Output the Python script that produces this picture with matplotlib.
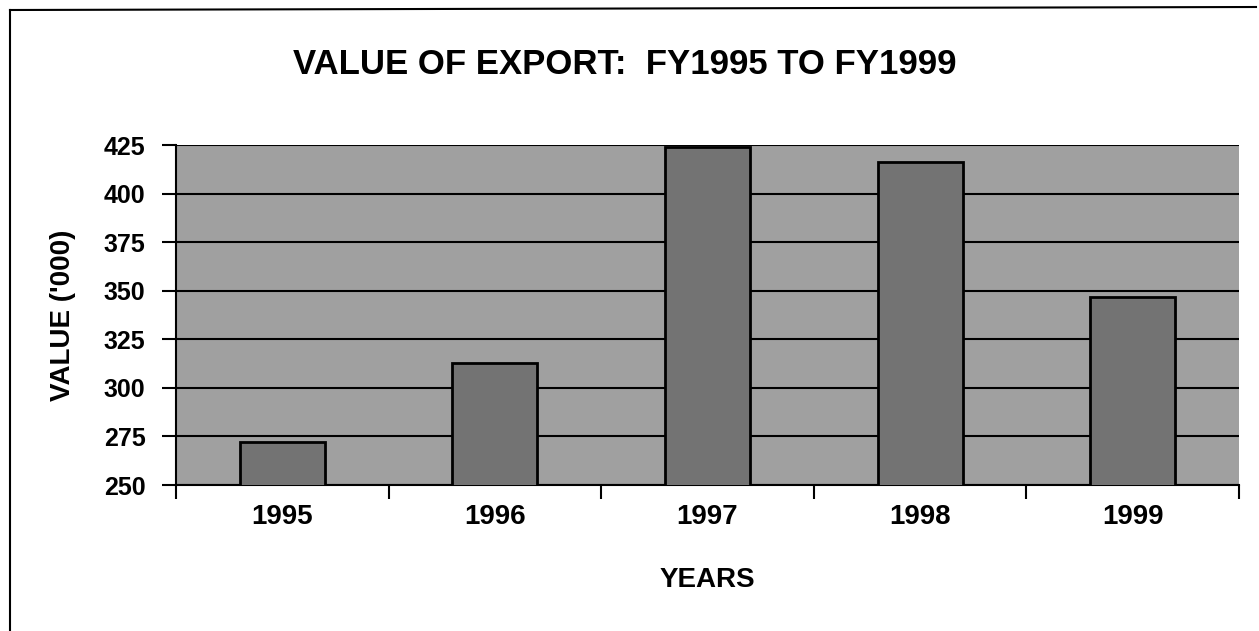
import matplotlib
matplotlib.use("Agg")
import matplotlib.pyplot as plt
from matplotlib.lines import Line2D

plt.rcParams['font.family'] = ['Liberation Sans', 'DejaVu Sans']
plt.rcParams['font.weight'] = 'bold'

years = ["1995", "1996", "1997", "1998", "1999"]
values = [272, 313, 424, 416, 347]
y_ticks = [250, 275, 300, 325, 350, 375, 400, 425]

title = "VALUE OF EXPORT:  FY1995 TO FY1999"
x_label = "YEARS"
y_label = "VALUE ('000)"

fig = plt.figure(figsize=(12.59, 6.31), dpi=100)
ax = fig.add_axes([176 / 1259, 1 - 485 / 631, (1239 - 176) / 1259, (485 - 145) / 631])

ax.set_facecolor("#a0a0a0")
positions = range(len(years))
ax.bar(positions, values, width=0.4, color="#737373", edgecolor="black",
       linewidth=2, zorder=3)

ax.set_xlim(-0.5, len(years) - 0.5)
ax.set_ylim(y_ticks[0], y_ticks[-1])
ax.set_yticks(y_ticks)
ax.yaxis.grid(True, color="black", linewidth=1.5, zorder=1)
ax.set_axisbelow(True)

# category boundaries get the tick marks, centres get the labels
ax.set_xticks([i - 0.5 for i in range(len(years) + 1)])
ax.set_xticklabels([])
ax.set_xticks(list(positions), minor=True)
ax.set_xticklabels(years, minor=True, fontsize=20, fontweight="bold")
ax.tick_params(axis="x", which="major", length=10, width=1.5, direction="out")
ax.tick_params(axis="x", which="minor", length=0, pad=14)
ax.tick_params(axis="y", length=10, width=1.5, direction="out", pad=12,
               labelsize=18)
for lbl in ax.get_yticklabels():
    lbl.set_fontweight("bold")

for side in ("top", "right"):
    ax.spines[side].set_visible(False)
for side in ("left", "bottom"):
    ax.spines[side].set_linewidth(1.5)

ax.set_xlabel(x_label, fontsize=20, fontweight="bold", labelpad=26)
ax.set_ylabel(y_label, fontsize=20, fontweight="bold", labelpad=20)
fig.text(625 / 1259, 1 - 65 / 631, title, fontsize=25, fontweight="bold",
         ha="center", va="center")

# page frame lines along the left and top
fig.add_artist(Line2D([10 / 1259, 10 / 1259], [0, 1 - 10 / 631],
                      color="black", linewidth=1.5))
fig.add_artist(Line2D([10 / 1259, 1256 / 1259], [1 - 10 / 631, 1 - 7 / 631],
                      color="black", linewidth=1.5))

fig.savefig("out.png", dpi=100)
